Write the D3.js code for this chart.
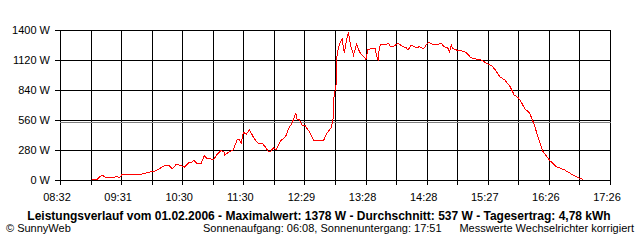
<!DOCTYPE html>
<html>
<head>
<meta charset="utf-8">
<script src="https://cdn.jsdelivr.net/npm/d3@7"></script>
<style>
  body { margin: 0; background: #fff; }
  svg { display: block; }
  text { font-family: "Liberation Sans", Arial, sans-serif; fill: #000; }
</style>
</head>
<body>
<div id="chart"></div>
<script>
// Zeitpunkte (HH:MM) und Leistung in W
const times = ["09:03","09:08","09:10","09:13","09:16","09:20","09:24","09:27","09:30","09:32","09:35","09:51","09:55","09:58",
  "10:04","10:09","10:14","10:18","10:21","10:25","10:29","10:33","10:37","10:39","10:42","10:45","10:49","10:52","10:55","10:58",
  "11:01","11:04","11:08","11:11","11:12","11:15","11:20","11:24","11:26","11:28","11:30","11:33","11:36","11:40","11:43","11:45","11:49","11:52","11:54","11:57","11:59",
  "12:02","12:06","12:11","12:14","12:17","12:21","12:22","12:24","12:27","12:30","12:34","12:38","12:41","12:48","12:51","12:55","12:57","12:58",
  "13:00","13:01","13:03","13:06","13:08","13:10","13:12","13:14","13:17","13:20","13:23","13:29","13:31","13:35","13:38","13:40","13:41","13:42","13:44","13:49","13:51","13:53","13:57",
  "14:00","14:05","14:08","14:10","14:13","14:18","14:21","14:25","14:28","14:30","14:34","14:39","14:42","14:45","14:49","14:50","14:52","14:53","14:57",
  "15:02","15:06","15:11","15:16","15:21","15:26","15:31","15:34","15:39","15:44","15:49","15:53","15:57",
  "16:00","16:03","16:08","16:12","16:15","16:18","16:21","16:28","16:34","16:42","16:49","16:55","17:00"];
const watts = [5,7,25,44,28,19,25,31,25,49,53,53,65,72,
  81,109,137,133,105,147,137,121,161,159,184,152,152,227,196,199,
  189,233,273,268,233,255,280,373,380,345,445,429,469,395,357,339,336,301,268,271,301,
  283,364,404,483,525,623,569,567,513,507,451,373,371,371,436,483,551,777,
  887,1167,1260,1316,1183,1297,1378,1260,1167,1267,1192,1127,1220,1225,1223,1136,1111,1244,1267,1267,1276,1244,1253,
  1276,1244,1235,1213,1260,1235,1244,1223,1267,1285,1267,1267,1276,1244,1229,1188,1260,1229,1213,
  1204,1192,1141,1129,1120,1089,1067,1036,964,933,871,793,768,
  725,669,623,529,436,343,264,177,124,93,53,21,7];

const yTicks = [0, 280, 560, 840, 1120, 1400];
const xTickLabels = ["08:32","09:31","10:30","11:30","12:29","13:28","14:28","15:27","16:26","17:26"];
const average = 537;

const title = "Leistungsverlauf vom 01.02.2006 - Maximalwert: 1378 W - Durchschnitt: 537 W - Tagesertrag: 4,78 kWh";
const footLeft = "\u00A9 SunnyWeb";
const footMid = "Sonnenaufgang: 06:08, Sonnenuntergang: 17:51";
const footRight = "Messwerte Wechselrichter korrigiert";

const width = 640, height = 240;
const plot = { left: 60, right: 610, top: 30, bottom: 180 };

const toMin = s => { const [h, m] = s.split(":").map(Number); return h * 60 + m; };
const data = times.map((t, i) => ({ t: toMin(t), w: watts[i] }));

const t0 = toMin(xTickLabels[0]), t1 = toMin(xTickLabels[xTickLabels.length - 1]);
const x = d3.scaleLinear().domain([t0, t1]).range([plot.left, plot.right]);
const y = d3.scaleLinear().domain([0, 1400]).range([plot.bottom, plot.top]);

// Gitter: 18 Intervalle, jede zweite Linie beschriftet
const nGrid = (xTickLabels.length - 1) * 2;
const xGrid = d3.range(nGrid + 1).map(i => t0 + i * (t1 - t0) / nGrid);

const svg = d3.select("#chart").append("svg")
  .attr("width", width)
  .attr("height", height);

// senkrechte Gitterlinien
svg.append("g")
  .selectAll("line")
  .data(xGrid)
  .enter()
  .append("line")
  .attr("x1", d => Math.round(x(d)) + 0.5)
  .attr("x2", d => Math.round(x(d)) + 0.5)
  .attr("y1", plot.top)
  .attr("y2", plot.bottom + 5)
  .attr("stroke", "#000")
  .attr("shape-rendering", "crispEdges");

// waagerechte Gitterlinien
svg.append("g")
  .selectAll("line")
  .data(yTicks)
  .enter()
  .append("line")
  .attr("x1", plot.left - 5)
  .attr("x2", plot.right + 1)
  .attr("y1", d => Math.round(y(d)) + 0.5)
  .attr("y2", d => Math.round(y(d)) + 0.5)
  .attr("stroke", "#000")
  .attr("shape-rendering", "crispEdges");

// Durchschnittslinie
svg.append("line")
  .attr("x1", plot.left)
  .attr("x2", plot.right + 1)
  .attr("y1", Math.round(y(average)) + 0.5)
  .attr("y2", Math.round(y(average)) + 0.5)
  .attr("stroke", "#808080")
  .attr("shape-rendering", "crispEdges");

// Achsenbeschriftung Y
svg.append("g")
  .selectAll("text")
  .data(yTicks)
  .enter()
  .append("text")
  .attr("x", 50)
  .attr("y", d => y(d) + 4)
  .attr("text-anchor", "end")
  .style("font-size", "11px")
  .text(d => d + " W");

// Achsenbeschriftung X
svg.append("g")
  .selectAll("text")
  .data(xTickLabels)
  .enter()
  .append("text")
  .attr("x", (d, i) => x(xGrid[i * 2]) - 3)
  .attr("y", 201)
  .attr("text-anchor", "middle")
  .style("font-size", "11px")
  .text(d => d);

// Leistungskurve
const line = d3.line()
  .x(d => x(d.t))
  .y(d => y(d.w));

svg.append("path")
  .datum(data)
  .attr("fill", "none")
  .attr("stroke", "#ff0000")
  .attr("stroke-width", 1)
  .attr("shape-rendering", "crispEdges")
  .attr("d", line);

// Titel und Fußzeile
svg.append("text")
  .attr("x", 319)
  .attr("y", 220)
  .attr("text-anchor", "middle")
  .style("font-size", "12px")
  .style("font-weight", "bold")
  .text(title);

svg.append("text")
  .attr("x", 6)
  .attr("y", 232)
  .style("font-size", "11px")
  .text(footLeft);

svg.append("text")
  .attr("x", 203)
  .attr("y", 232)
  .style("font-size", "11px")
  .text(footMid);

svg.append("text")
  .attr("x", 634)
  .attr("y", 232)
  .attr("text-anchor", "end")
  .style("font-size", "11px")
  .text(footRight);
</script>
</body>
</html>
